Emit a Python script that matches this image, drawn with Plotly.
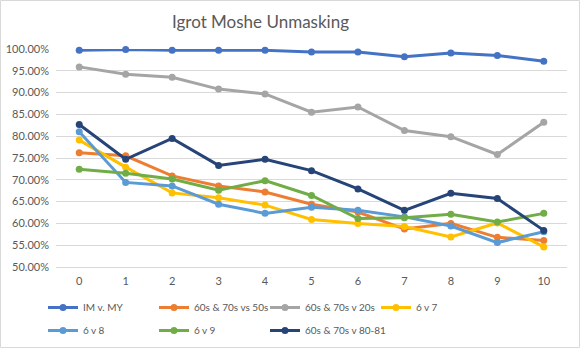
import plotly.graph_objects as go

categories = ["0", "1", "2", "3", "4", "5", "6", "7", "8", "9", "10"]

im_v_my = [0.997, 0.999, 0.997, 0.997, 0.997, 0.993, 0.993, 0.982, 0.991, 0.985, 0.972]
s6070_vs_50s = [0.762, 0.755, 0.709, 0.686, 0.672, 0.644, 0.626, 0.587, 0.600, 0.568, 0.561]
s6070_v_20s = [0.959, 0.942, 0.935, 0.908, 0.897, 0.855, 0.867, 0.813, 0.799, 0.758, 0.832]
s6_v_7 = [0.791, 0.729, 0.670, 0.659, 0.642, 0.609, 0.600, 0.593, 0.569, 0.601, 0.546]
s6_v_8 = [0.810, 0.694, 0.686, 0.644, 0.623, 0.637, 0.630, 0.615, 0.594, 0.556, 0.581]
s6_v_9 = [0.724, 0.715, 0.702, 0.676, 0.698, 0.664, 0.611, 0.613, 0.621, 0.603, 0.623]
s6070_v_8081 = [0.827, 0.747, 0.795, 0.733, 0.747, 0.721, 0.679, 0.630, 0.669, 0.657, 0.584]

series = [
    ("IM v. MY", im_v_my, "#4472C4", "legend"),
    ("60s & 70s vs 50s", s6070_vs_50s, "#ED7D31", "legend"),
    ("60s & 70s v 20s", s6070_v_20s, "#A5A5A5", "legend"),
    ("6 v 7", s6_v_7, "#FFC000", "legend"),
    ("6 v 8", s6_v_8, "#5B9BD5", "legend2"),
    ("6 v 9", s6_v_9, "#70AD47", "legend2"),
    ("60s & 70s v 80-81", s6070_v_8081, "#264478", "legend2"),
]

W, H = 581, 349
ML, MR, MT, MB = 56, 14, 49, 82
PW = W - ML - MR
PH = H - MT - MB

fig = go.Figure()
for name, vals, col, lg in series:
    fig.add_trace(go.Scatter(
        x=categories, y=vals, name=name, mode="lines+markers",
        line=dict(color=col, width=3),
        marker=dict(color=col, size=7, symbol="circle"),
        cliponaxis=False, legend=lg,
    ))

# invisible spacer entry so the last legend2 label is not clipped
fig.add_trace(go.Scatter(x=[None], y=[None], name=" ", mode="lines",
                         line=dict(color="rgba(0,0,0,0)", width=0),
                         legend="legend2", hoverinfo="skip"))

font = "Lato, 'Open Sans', sans-serif"

def px_x(p):
    return (p - ML) / PW

def px_y(p):
    return (H - MB - p) / PH

legend_common = dict(orientation="h", xanchor="left", yanchor="middle",
                     entrywidth=66, entrywidthmode="pixels",
                     font=dict(size=10, color="#595959"),
                     itemwidth=30, bgcolor="rgba(0,0,0,0)")

fig.update_layout(
    width=W, height=H,
    margin=dict(l=ML, r=MR, t=MT, b=MB, autoexpand=False),
    paper_bgcolor="white", plot_bgcolor="white",
    font=dict(family=font, size=11, color="#595959"),
    title=dict(text="Igrot Moshe Unmasking", x=px_x(260.5), xref="paper",
               xanchor="center", y=1 - 22 / H, yanchor="middle",
               font=dict(size=17, color="#595959", family=font)),
    xaxis=dict(type="category", range=[-0.5, 10.5], showgrid=False,
               showline=True, linecolor="#D9D9D9", ticks="", zeroline=False,
               tickfont=dict(size=11, color="#595959"), ticklabelstandoff=4),
    yaxis=dict(range=[0.5, 1.0], dtick=0.05, tickformat=".2%",
               showgrid=True, gridcolor="#D9D9D9", gridwidth=1,
               zeroline=False, showline=False, ticks="",
               tickfont=dict(size=11, color="#595959"), ticklabelstandoff=6),
    legend=dict(x=px_x(43), y=px_y(307.5), **legend_common),
    legend2=dict(x=px_x(43), y=px_y(330.5), **legend_common),
    shapes=[dict(type="rect", xref="paper", yref="paper",
                 x0=px_x(0.5), x1=px_x(W - 1.5),
                 y0=px_y(H - 1.5), y1=px_y(0.5),
                 line=dict(color="#D9D9D9", width=1), fillcolor="rgba(0,0,0,0)",
                 layer="below")],
)

fig.write_html("out.html")
